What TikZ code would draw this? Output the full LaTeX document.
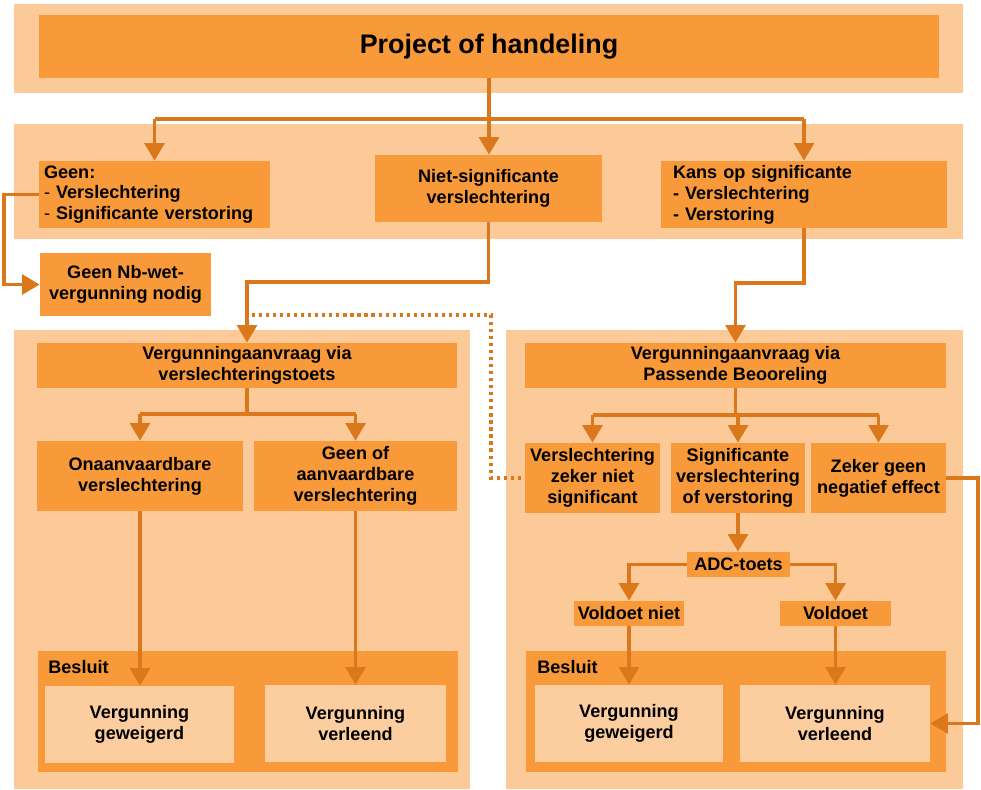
\documentclass[tikz,border=0pt]{standalone}
\usepackage{fontspec}
\setmainfont{Liberation Sans}
\usetikzlibrary{arrows.meta}
\definecolor{dark}{RGB}{248,153,58}
\definecolor{band}{RGB}{252,202,152}
\definecolor{pale}{RGB}{252,205,158}
\definecolor{lcol}{RGB}{220,120,28}
\newcommand\mybox[7]{\node[#6, minimum width={(#4-#2)*0.02cm}, minimum height={(#5-#3)*0.02cm}] (#1) at ({(#2+#4)/2},{(#3+#5)/2}) {#7};}
\begin{document}
\begin{tikzpicture}[x=0.02cm,y=-0.02cm,
  dbox/.style={fill=dark, draw=none, inner sep=0pt, align=center, font=\fontsize{10.3}{11.9}\selectfont\bfseries},
  pbox/.style={dbox, fill=pale},
  bandbox/.style={fill=band, draw=none},
  conn/.style={draw=lcol, line width=1.9pt},
  arr/.style={conn, -{Triangle[width=11.3pt,length=10pt]}},
  dotline/.style={draw=lcol, line width=1.8pt, dash pattern=on 1.8pt off 2.2pt}]
\useasboundingbox (0,0) rectangle (981,789);
% background bands
\fill[bandbox] (14,4) rectangle (963,93);
\fill[bandbox] (14,124) rectangle (963,239);
\fill[bandbox] (14,330) rectangle (470,789);
\fill[bandbox] (506,330) rectangle (963,789);
% top
\mybox{title}{39}{15}{939}{78}{dbox, font=\fontsize{15.3}{18}\selectfont\bfseries}{\raisebox{-2pt}{Project of handeling}}
% second row
\mybox{geen}{39}{161}{270}{228}{dbox, text width=221*0.02cm, align=left}{Geen:\\{\mdseries -} Verslechtering\\{\mdseries -} Significante verstoring}
\mybox{niet}{375}{155}{602}{222}{dbox}{Niet-significante\\verslechtering}
\mybox{kans}{661}{161}{947}{228}{dbox, text width=262*0.02cm, align=left}{Kans op significante\\- Verslechtering\\- Verstoring}
\mybox{nb}{40}{253}{211}{316}{dbox}{Geen Nb-wet-\\vergunning nodig}
% left lower
\mybox{vergL}{37}{343}{457}{388}{dbox}{Vergunningaanvraag via\\verslechteringstoets}
\mybox{ona}{37}{441}{243}{511}{dbox}{Onaanvaardbare\\verslechtering}
\mybox{gof}{254}{441}{457}{511}{dbox}{Geen of\\aanvaardbare\\verslechtering}
\mybox{besL}{38}{651}{458}{772}{dbox}{}
\node[dbox, anchor=west] (besLtxt) at (48,667) {Besluit};
\mybox{gewL}{45}{686}{234}{763}{pbox}{Vergunning\\geweigerd}
\mybox{verL}{265}{685}{446}{762}{pbox}{Vergunning\\verleend}
% right lower
\mybox{vergR}{525}{343}{946}{388}{dbox}{Vergunningaanvraag via\\Passende Beooreling}
\mybox{vz}{525}{443}{660}{513}{dbox}{Verslechtering\\zeker niet\\significant}
\mybox{sig}{671}{443}{805}{513}{dbox}{Significante\\verslechtering\\of verstoring}
\mybox{zg}{811}{443}{946}{513}{dbox}{Zeker geen\\negatief effect}
\mybox{adc}{687}{552}{790}{577}{dbox}{ADC-toets}
\mybox{vn}{574}{601}{684}{626}{dbox}{Voldoet niet}
\mybox{vd}{780}{601}{891}{626}{dbox}{Voldoet}
\mybox{besR}{526}{651}{946}{772}{dbox}{}
\node[dbox, anchor=west] (besRtxt) at (537,667) {Besluit};
\mybox{gewR}{535}{685}{723}{762}{pbox}{Vergunning\\geweigerd}
\mybox{verR}{740}{685}{930}{762}{pbox}{Vergunning\\verleend}
% helper coordinates
\coordinate (s1) at (0,119);
\coordinate (s2) at (0,282);
\coordinate (s3) at (0,283);
\coordinate (s4) at (0,414);
\coordinate (s5) at (0,415);
\coordinate (xl) at (4,0);
\coordinate (xr) at (978,0);
\coordinate (dotA) at (252,315);
\coordinate (dotB) at (491,315);
\coordinate (dotC) at (491,478);
% connectors top
\draw[arr] (title.south) -- (title.south |- niet.north);
\draw[conn] (geen.north |- s1) -- (kans.north |- s1);
\draw[arr] (geen.north |- s1) -- (geen.north);
\draw[arr] (kans.north |- s1) -- (kans.north);
\draw[arr] (geen.west) -- (xl |- geen.west) |- (nb.west);
\draw[arr] (niet.south) -- (niet.south |- s2) -| (vergL.north);
\draw[arr] (kans.south) -- (kans.south |- s3) -| (vergR.north);
\draw[dotline] (dotA) -- (dotB) -- (dotC) -- (vz.west);
% left lower
\draw[conn] (vergL.south) -- (vergL.south |- s4);
\draw[conn] (ona.north |- s4) -- (gof.north |- s4);
\draw[arr] (ona.north |- s4) -- (ona.north);
\draw[arr] (gof.north |- s4) -- (gof.north);
\draw[arr] (ona.south) -- (ona.south |- gewL.north);
\draw[arr] (gof.south) -- (gof.south |- verL.north);
% right lower
\draw[conn] (vergR.south) -- (vergR.south |- s5);
\draw[conn] (vz.north |- s5) -- (zg.north |- s5);
\draw[arr] (vz.north |- s5) -- (vz.north);
\draw[arr] (sig.north |- s5) -- (sig.north);
\draw[arr] (zg.north |- s5) -- (zg.north);
\draw[arr] (sig.south) -- (sig.south |- adc.north);
\draw[arr] (adc.west) -| (vn.north);
\draw[arr] (adc.east) -| (vd.north);
\draw[arr] (vn.south) -- (vn.south |- gewR.north);
\draw[arr] (vd.south) -- (vd.south |- verR.north);
\draw[arr] (zg.east) -- (xr |- zg.east) |- (verR.east);
\end{tikzpicture}
\end{document}
